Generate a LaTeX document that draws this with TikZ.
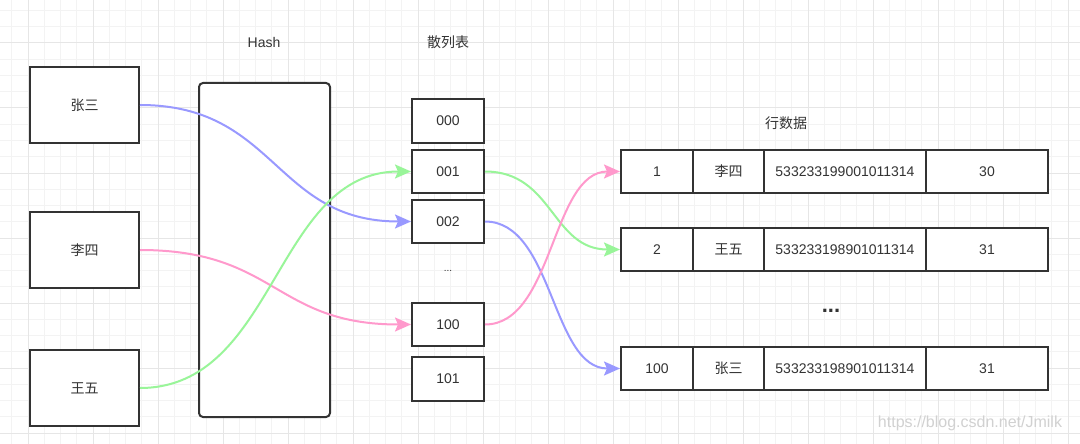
\documentclass[tikz,border=0pt]{standalone}
\usepackage{fontspec}
\setmainfont{Liberation Sans}
\newfontfamily\cjk{Noto Sans CJK SC}
\usetikzlibrary{arrows.meta}
\definecolor{txt}{HTML}{333333}
\definecolor{boxc}{HTML}{333333}
\definecolor{gminor}{HTML}{F3F3F3}
\definecolor{gmajor}{HTML}{E6E6E6}
\definecolor{cblue}{HTML}{9999FF}
\definecolor{cgreen}{HTML}{99F599}
\definecolor{cpink}{HTML}{FF99CC}
\tikzset{
  cell/.style={draw=boxc, line width=2pt, inner sep=0pt, text=txt, font=\fontsize{14}{16}\selectfont, fill=white},
  lbl/.style={inner sep=0pt, text=txt, font=\fontsize{14}{16}\selectfont},
  conn/.style={line width=2pt, -{Stealth[length=16pt,width=14pt,inset=3pt]}, out=0, in=180},
}
\begin{document}
\begin{tikzpicture}[x=1pt,y=-1pt]
\useasboundingbox (0,0) rectangle (1080,444);
\fill[white] (0,0) rectangle (1080,444);
% grid
\foreach \i in {0,...,66} \draw[gminor, line width=1pt] ({11.75+16.25*\i},0) -- ++(0,444);
\foreach \i in {0,...,27} \draw[gminor, line width=1pt] (0,{10.5+16.25*\i}) -- ++(1080,0);
\foreach \i in {0,...,16} \draw[gmajor, line width=1pt] ({28+65*\i},0) -- ++(0,444);
\foreach \i in {0,...,6} \draw[gmajor, line width=1pt] (0,{43+65*\i}) -- ++(1080,0);

% labels
\node[lbl] (lhash) at (264,42) {Hash};
\node[lbl] (ltable) at (448,42) {\cjk 散列表};
\node[lbl] (lrows) at (786,123) {\cjk 行数据};

% left boxes
\node[cell, minimum width=109pt, minimum height=76pt] (zs) at (84.5,105) {\cjk 张三};
\node[cell, minimum width=109pt, minimum height=76pt] (ls) at (84.5,250) {\cjk 李四};
\node[cell, minimum width=109pt, minimum height=76pt] (ww) at (84.5,388) {\cjk 王五};

% hash box
\node[cell, rounded corners=4pt, minimum width=131pt, minimum height=334pt] (hash) at (264.5,250) {};

% buckets
\node[cell, minimum width=72pt, minimum height=44pt] (b000) at (448,121) {000};
\node[cell, minimum width=72pt, minimum height=43pt] (b001) at (448,171.5) {001};
\node[cell, minimum width=72pt, minimum height=43pt] (b002) at (448,221.5) {002};
\node[lbl, anchor=base, font=\fontsize{10}{12}\selectfont] (bdots) at (448,271) {...};
\node[cell, minimum width=72pt, minimum height=43pt] (b100) at (448,324.5) {100};
\node[cell, minimum width=72pt, minimum height=44pt] (b101) at (448,379) {101};

% rows
\foreach \r/\y/\a/\b/\c/\d in {1/171.5/1/李四/533233199001011314/30, 2/249.5/2/王五/533233198901011314/31, 3/368.5/100/张三/533233198901011314/31}{
  \node[cell, minimum width=72pt, minimum height=43pt] (r\r a) at (657,\y) {\a};
  \node[cell, minimum width=71pt, minimum height=43pt] (r\r b) at (728.5,\y) {\cjk \b};
  \node[cell, minimum width=162pt, minimum height=43pt] (r\r c) at (845,\y) {\c};
  \node[cell, minimum width=122pt, minimum height=43pt] (r\r d) at (987,\y) {\d};
}
\node[lbl, anchor=base, font=\fontsize{22}{24}\bfseries] (rdots) at (831,312) {...};

% connectors
\draw[conn, cblue, out distance=136.5pt, in distance=136.5pt] (zs.east) to (b002.west);
\draw[conn, cpink, out distance=136.5pt, in distance=136.5pt] (ls.east) to (b100.west);
\draw[conn, cgreen, out distance=136.5pt, in distance=136.5pt] (ww.east) to (b001.west);
\draw[conn, cgreen, out distance=68.5pt, in distance=68.5pt] (b001.east) to (r2a.west);
\draw[conn, cblue, out distance=68.5pt, in distance=68.5pt] (b002.east) to (r3a.west);
\draw[conn, cpink, out distance=68.5pt, in distance=68.5pt] (b100.east) to (r1a.west);

% watermark
\node[inner sep=0pt, text=black!18, font=\fontsize{16}{18}\selectfont] (wm) at (970,423) {https://blog.csdn.net/Jmilk};
\end{tikzpicture}
\end{document}
